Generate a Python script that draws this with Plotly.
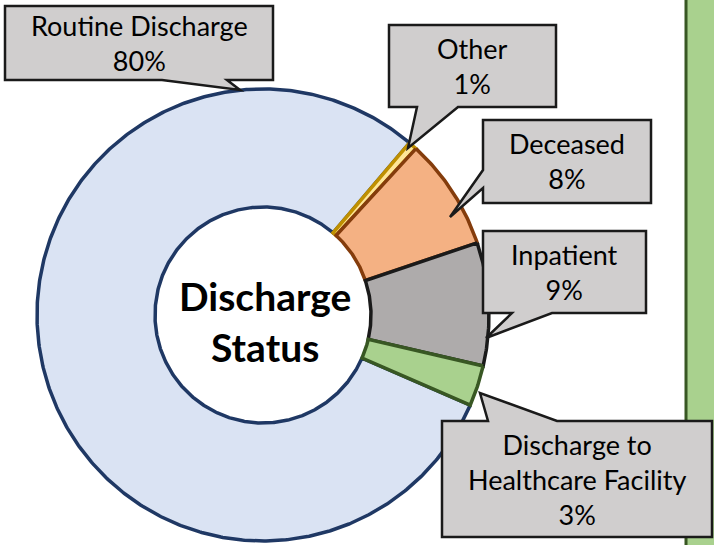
import numpy as np
import plotly.graph_objects as go

# ---------------- data ----------------
categories = ["Routine Discharge", "Other", "Deceased", "Inpatient",
              "Discharge to<br>Healthcare Facility"]
values = [79.7, 0.6, 8.0, 8.8, 2.9]          # share of discharges (%)
pct_labels = ["80%", "1%", "8%", "9%", "3%"]
center_title = "Discharge<br>Status"

# ---------------- styling / layout ----------------
W, H = 714, 545
CX, CY = 263, 315            # donut centre (pixel units)
R_OUT, R_IN = 226, 108
START_DEG = 113.5            # where the first slice starts, clockwise from 12 o'clock

fills = ["#DAE3F3", "#FFE699", "#F4B183", "#AEABAB", "#A9D18E"]
borders = ["#1F3864", "#BF9000", "#843C0C", "#1A1A1A", "#385723"]
FONT = "Lato"

# callout outlines (box with pointer tail) and text centres
callouts = [
    dict(pts=[(5, 6), (273, 6), (273, 80), (227, 80), (240, 90), (162, 80), (5, 80)],
         text_xy=(139, 43)),
    dict(pts=[(389, 25), (556, 25), (556, 107), (458, 107), (408, 148), (417, 107), (389, 107)],
         text_xy=(472, 66)),
    dict(pts=[(483, 120), (651, 120), (651, 203), (483, 203), (483, 188), (450, 217), (483, 170)],
         text_xy=(567, 161)),
    dict(pts=[(483, 231), (646, 231), (646, 313), (552, 313), (486, 338), (512, 313), (483, 313)],
         text_xy=(564, 272)),
    dict(pts=[(442, 421), (488, 421), (480, 393), (557, 421), (712, 421), (712, 537), (442, 537)],
         text_xy=(577, 479)),
]

fig = go.Figure()

# ---------------- donut slices (from the values) ----------------
total = float(sum(values))
a0 = START_DEG
for cat, v, fc, lc in zip(categories, values, fills, borders):
    span = 360.0 * v / total
    a1 = a0 + span
    n = max(3, int(span * 2))
    th = np.radians(np.linspace(a0, a1, n))
    xo = CX + R_OUT * np.sin(th)
    yo = CY - R_OUT * np.cos(th)
    xi = CX + R_IN * np.sin(th[::-1])
    yi = CY - R_IN * np.cos(th[::-1])
    xs = np.concatenate([xo, xi, xo[:1]])
    ys = np.concatenate([yo, yi, yo[:1]])
    fig.add_trace(go.Scatter(
        x=xs, y=ys, mode="lines", fill="toself", fillcolor=fc,
        line=dict(color=lc, width=3.5), name=cat.replace("<br>", " "),
        hoverinfo="name", showlegend=False))
    a0 = a1

# ---------------- shapes: green side panel + callouts ----------------
shapes = [dict(type="rect", xref="x", yref="y", x0=686, x1=740, y0=-20, y1=570,
               fillcolor="#A9D18E", line=dict(color="#385723", width=3), layer="above")]
annotations = []
for cat, pct, c in zip(categories, pct_labels, callouts):
    p = c["pts"]
    path = "M " + " L ".join(f"{x},{y}" for x, y in p) + " Z"
    shapes.append(dict(type="path", xref="x", yref="y", path=path,
                       fillcolor="#D0CECE", line=dict(color="#1A1A1A", width=2.5),
                       layer="above"))
    tx, ty = c["text_xy"]
    annotations.append(dict(x=tx, y=ty, xref="x", yref="y", showarrow=False,
                            text=f"{cat}<br>{pct}", align="center",
                            xanchor="center", yanchor="middle",
                            font=dict(family=FONT, size=27, color="#000000")))

annotations.append(dict(x=CX + 2, y=CY + 6, xref="x", yref="y", showarrow=False,
                        text=f"<b>{center_title}</b>", align="center",
                        xanchor="center", yanchor="middle",
                        font=dict(family=FONT, size=39, color="#000000")))

fig.update_layout(
    width=W, height=H,
    margin=dict(l=0, r=0, t=0, b=0),
    paper_bgcolor="white", plot_bgcolor="white",
    xaxis=dict(range=[0, W], visible=False, fixedrange=True),
    yaxis=dict(range=[H, 0], visible=False, fixedrange=True),
    shapes=shapes, annotations=annotations,
    showlegend=False,
)

fig.write_html("out.html",
               config={"displayModeBar": False},
               post_script="document.body.style.margin='0';document.body.style.overflow='hidden';")
